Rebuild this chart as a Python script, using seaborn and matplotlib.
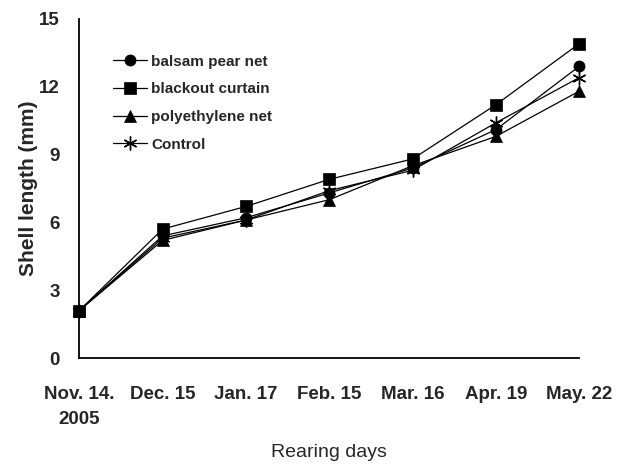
import matplotlib
matplotlib.use("Agg")
import matplotlib.pyplot as plt
import seaborn as sns
import pandas as pd

# Andmed
kuupaevad = ["Nov. 14.\n2005", "Dec. 15", "Jan. 17", "Feb. 15", "Mar. 16", "Apr. 19", "May. 22"]
balsam = [2.1, 5.4, 6.2, 7.3, 8.4, 10.1, 12.9]
blackout = [2.1, 5.7, 6.7, 7.9, 8.8, 11.2, 13.9]
polyethylene = [2.1, 5.2, 6.1, 7.0, 8.5, 9.8, 11.8]
control = [2.1, 5.3, 6.1, 7.4, 8.3, 10.4, 12.4]

seeriad = {
    "balsam pear net": balsam,
    "blackout curtain": blackout,
    "polyethylene net": polyethylene,
    "Control": control,
}
markerid = {"balsam pear net": "o", "blackout curtain": "s",
            "polyethylene net": "^", "Control": (6, 2, 0)}

df = pd.DataFrame(
    [(i, v, nimi) for nimi, vals in seeriad.items() for i, v in enumerate(vals)],
    columns=["paev", "pikkus", "grupp"],
)

sns.set_style("white")
plt.rcParams["font.family"] = ["Liberation Sans", "DejaVu Sans"]

fig = plt.figure(figsize=(6.29, 4.68), dpi=100)
ax = fig.add_axes([0.126, 0.235, 0.795, 0.725])

for nimi in seeriad:
    sns.lineplot(data=df[df["grupp"] == nimi], x="paev", y="pikkus", ax=ax,
                 color="black", linewidth=0.9, marker=markerid[nimi],
                 markersize=8 if nimi != "Control" else 10,
                 markeredgecolor="black", markeredgewidth=1.0 if nimi == "Control" else 0.5,
                 label=nimi, clip_on=False)

ax.set_xlim(0, 6)
ax.set_ylim(0, 15)
ax.set_yticks([0, 3, 6, 9, 12, 15])
ax.set_xticks(range(len(kuupaevad)))
ax.set_xticklabels(kuupaevad, fontsize=13.5, fontweight="bold", linespacing=1.6)
ax.tick_params(axis="y", labelsize=13.5, direction="in", length=5, width=1, pad=14)
ax.tick_params(axis="x", direction="in", length=5, width=1, pad=20)
for t in ax.get_yticklabels():
    t.set_fontweight("bold")

ax.set_xlabel("Rearing days", fontsize=14, labelpad=12)
ax.set_ylabel("Shell length (mm)", fontsize=15, fontweight="bold", labelpad=1)

for s in ["top", "right"]:
    ax.spines[s].set_visible(False)
for s in ["left", "bottom"]:
    ax.spines[s].set_color("black")
    ax.spines[s].set_linewidth(1.3)

leg = ax.legend(loc="upper left", bbox_to_anchor=(0.04, 0.935), frameon=False,
                fontsize=11, handlelength=2.2, handletextpad=0.3, labelspacing=0.9)
for t in leg.get_texts():
    t.set_fontweight("bold")

fig.savefig("out.png", dpi=100)
